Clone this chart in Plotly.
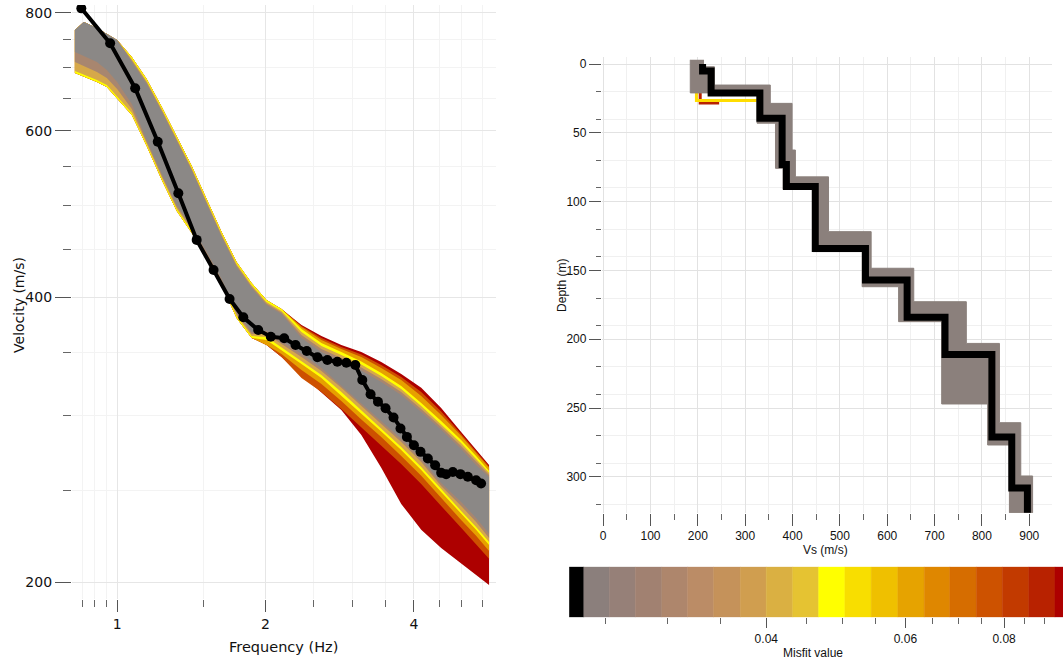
import math
import plotly.graph_objects as go

W, H = 1063, 666

# ---------------- Left panel: dispersion curves ----------------
# Observed (target) dispersion curve
freq_obs = [0.846, 0.968, 1.088, 1.209, 1.331, 1.450, 1.569, 1.691, 1.803, 1.933,
            2.050, 2.182, 2.301, 2.425, 2.549, 2.670, 2.797, 2.917, 3.042, 3.143,
            3.267, 3.382, 3.504, 3.637, 3.757, 3.871, 4.000, 4.125, 4.269, 4.417,
            4.543, 4.650, 4.797, 4.970, 5.145, 5.348, 5.474]
vel_obs = [808.6, 742.6, 665.7, 584.5, 515.5, 460.2, 427.7, 398.6, 381.2, 369.6,
           363.6, 362.2, 356.3, 351.2, 345.8, 343.5, 342.1, 341.3, 339.4, 327.2,
           316.0, 310.3, 305.4, 298.7, 290.8, 284.9, 279.2, 274.7, 270.3, 265.9,
           261.0, 260.2, 261.6, 260.2, 258.5, 256.4, 254.3]

# Envelopes of the computed curves, per misfit class (upper / lower velocity)
freq_env = [0.821, 0.856, 0.910, 0.953, 1.0, 1.071, 1.148, 1.232, 1.321, 1.417,
            1.519, 1.629, 1.747, 1.874, 2.009, 2.155, 2.366, 2.597, 2.850, 3.129,
            3.434, 3.770, 4.139, 4.543, 4.987, 5.348, 5.682]

red_up = [767.0, 782.1, 770.8, 759.6, 748.6, 718.2, 680.8, 636.0, 592.6, 550.9,
          508.4, 469.1, 436.1, 414.4, 397.6, 389.0, 374.1, 364.2, 356.3, 350.3,
          341.9, 332.1, 321.0, 305.7, 288.3, 276.0, 266.1]
red_lo = [690.8, 684.1, 675.8, 667.7, 650.0, 623.7, 578.4, 532.4, 493.7, 468.0,
          440.4, 412.4, 380.6, 362.5, 356.3, 346.1, 331.3, 317.1, 304.2, 286.2,
          264.2, 242.0, 227.2, 217.4, 209.6, 203.6, 198.7]

darkorange_up = [767.0, 782.1, 770.8, 759.6, 748.6, 718.2, 680.8, 636.0, 592.6, 550.9,
                 508.4, 469.1, 436.1, 414.4, 397.6, 389.0, 373.2, 362.5, 354.6, 348.2,
                 339.4, 329.7, 317.8, 303.1, 286.9, 275.0, 265.1]
darkorange_lo = [690.8, 684.1, 675.8, 667.7, 650.0, 623.7, 578.4, 532.4, 493.7, 468.0,
                 440.4, 412.4, 380.6, 362.5, 356.3, 346.1, 328.9, 317.8, 304.9, 291.5,
                 279.0, 266.7, 254.1, 240.8, 228.3, 219.5, 211.7]

orange_up = [767.0, 782.1, 770.8, 759.6, 748.6, 718.2, 680.8, 636.0, 592.6, 550.9,
             508.4, 469.1, 436.1, 414.4, 397.6, 389.0, 372.3, 360.7, 352.9, 346.1,
             337.0, 327.3, 314.8, 300.5, 285.6, 274.0, 264.2]
orange_lo = [690.8, 684.1, 675.8, 667.7, 650.0, 623.7, 578.4, 532.4, 493.7, 468.0,
             440.4, 412.4, 380.6, 362.5, 356.3, 348.6, 335.3, 324.1, 310.9, 297.3,
             284.8, 272.0, 259.1, 245.6, 232.7, 223.9, 215.8]

yellow_up = [767.0, 782.1, 770.8, 759.6, 748.6, 718.2, 680.8, 636.0, 592.6, 550.9,
             508.4, 469.1, 436.1, 414.4, 397.6, 389.0, 370.5, 358.1, 350.3, 342.3,
             332.9, 322.5, 309.4, 296.2, 282.8, 272.0, 262.2]
yellow_lo = [690.8, 684.1, 675.8, 667.7, 650.0, 623.7, 578.4, 532.4, 493.7, 468.0,
             440.4, 412.4, 380.6, 362.5, 360.7, 352.0, 340.2, 328.9, 315.5, 301.6,
             288.7, 276.0, 262.9, 249.2, 236.2, 227.2, 219.0]

tan_up = [767.0, 782.1, 770.8, 759.6, 748.6, 714.8, 677.5, 632.9, 589.8, 548.2,
          505.9, 466.9, 434.0, 412.4, 395.7, 387.1, 367.8, 355.5, 347.8, 339.8,
          330.5, 320.2, 307.2, 294.0, 280.7, 270.0, 261.0]
tan_lo = [694.2, 687.5, 679.1, 670.9, 653.2, 626.7, 581.2, 535.0, 496.2, 470.3,
          442.5, 414.4, 382.4, 364.2, 363.3, 354.6, 342.7, 331.3, 317.8, 303.8,
          290.8, 278.0, 264.8, 251.0, 237.9, 228.8, 220.6]

brown_up = [767.0, 782.1, 770.8, 759.6, 748.6, 712.2, 675.0, 630.6, 587.6, 546.2,
            504.1, 465.2, 432.4, 410.9, 394.2, 385.7, 365.1, 352.9, 345.2, 337.4,
            328.1, 317.8, 304.9, 291.9, 278.7, 268.0, 259.7]
brown_lo = [709.6, 702.7, 692.5, 682.5, 664.4, 632.9, 584.0, 537.6, 498.6, 472.6,
            444.7, 416.4, 384.3, 366.0, 366.0, 357.2, 346.1, 334.5, 321.0, 307.2,
            294.0, 281.4, 268.0, 252.8, 240.8, 231.6, 222.8]

gray_up = [767.0, 782.1, 770.8, 759.6, 748.6, 709.6, 672.6, 628.3, 585.4, 544.2,
           502.2, 463.5, 430.8, 409.4, 392.8, 384.3, 362.5, 350.3, 342.7, 334.9,
           325.7, 315.5, 302.7, 289.8, 276.7, 266.1, 258.4]
gray_lo = [727.0, 720.0, 709.6, 695.9, 675.8, 640.6, 586.9, 540.3, 501.0, 474.9,
           446.8, 418.4, 386.2, 367.8, 368.7, 359.8, 348.6, 337.0, 323.3, 309.4,
           296.2, 283.5, 270.0, 254.7, 243.2, 233.9, 225.0]

env_layers = [
    (red_up, red_lo, "#ad0000"),
    (darkorange_up, darkorange_lo, "#cd5000"),
    (orange_up, orange_lo, "#e6a000"),
    (yellow_up, yellow_lo, "#ffff00"),
    (tan_up, tan_lo, "#d6a84a"),
    (brown_up, brown_lo, "#a8866f"),
    (gray_up, gray_lo, "#8b8886"),
]

# ---------------- Right panel: Vs profiles ----------------
best_vs = [210, 228, 331, 378, 387, 448, 554, 642, 722, 821, 863, 896]
best_bottom = [5, 21, 39.5, 73, 89, 134, 157, 184, 211, 271, 308, 326]

gray_left_vs = [184, 325, 364, 380, 443, 547, 624, 715, 812, 858]
gray_left_bottom = [21, 43, 75.8, 91, 136.3, 161.8, 187.2, 247, 276.8, 326]
gray_right_vs = [212, 235, 353, 399, 406, 476, 566, 656, 767, 837, 882, 907]
gray_right_bottom = [2, 15.3, 28.6, 62.5, 82, 121.8, 148.4, 172.7, 203, 260.6, 299.3, 326]
gray_top = -3

yellow_prof_vs = [197, 330]
yellow_prof_bottom = [26.6, 30]
red_prof_vs = [205, 245]
red_prof_bottom = [28.3, 28.3]
red_prof_top = 10

# ---------------- Colour scale (misfit) ----------------
misfit_levels = [0.0225, 0.0235, 0.0253, 0.0273, 0.0295, 0.0318, 0.0343, 0.0371, 0.0400,
                 0.0432, 0.0466, 0.0503, 0.0543, 0.0587, 0.0634, 0.0683, 0.0738, 0.0796,
                 0.0860, 0.0928, 0.1000]
misfit_colors = ["#000000", "#8b7f7c", "#968078", "#a18171", "#ae866c", "#bb8c66",
                 "#c5925a", "#d09e4f", "#dab042", "#e5c332", "#ffff00", "#f8de00",
                 "#efc000", "#e6a300", "#df8700", "#d66d00", "#cd5200", "#c23a00",
                 "#b82200", "#ad0000"]
misfit_ticks = [0.04, 0.06, 0.08]
misfit_minor = [0.025, 0.03, 0.035, 0.045, 0.05, 0.055, 0.065, 0.07, 0.075, 0.085, 0.09]

# ---------------- Axis tick values ----------------
freq_ticks = [1, 2, 4]
freq_minor = [0.85, 0.9, 0.95, 1.5, 2.5, 3, 3.5, 4.5, 5, 5.5]
vel_ticks = [200, 400, 600, 800]
vel_minor = [250, 300, 350, 450, 500, 550, 650, 700, 750]
vs_ticks = [0, 100, 200, 300, 400, 500, 600, 700, 800, 900]
vs_minor = [50, 150, 250, 350, 450, 550, 650, 750, 850]
depth_ticks = [0, 50, 100, 150, 200, 250, 300]
depth_minor = [20, 40, 70, 90, 120, 140, 170, 190, 220, 240, 270, 290, 320]


def staircase(vs, bottoms, top):
    xs, ys = [vs[0]], [top]
    for i, v in enumerate(vs):
        xs.append(v)
        ys.append(bottoms[i])
        if i + 1 < len(vs):
            xs.append(vs[i + 1])
            ys.append(bottoms[i])
    return xs, ys


fig = go.Figure()

# left: envelopes
for up, lo, col in env_layers:
    fig.add_trace(go.Scatter(
        x=freq_env + freq_env[::-1], y=up + lo[::-1],
        fill="toself", fillcolor=col, mode="lines",
        line=dict(width=0, color=col), hoverinfo="skip", showlegend=False,
        xaxis="x", yaxis="y"))

fig.add_trace(go.Scatter(
    x=freq_obs, y=vel_obs, mode="lines+markers",
    line=dict(color="black", width=4), marker=dict(color="black", size=10),
    showlegend=False, xaxis="x", yaxis="y"))

# right: profiles
rx, ry = staircase(red_prof_vs, red_prof_bottom, red_prof_top)
fig.add_trace(go.Scatter(x=rx, y=ry, mode="lines", line=dict(color="#b82200", width=3),
                         showlegend=False, xaxis="x2", yaxis="y2"))
yx, yy = staircase(yellow_prof_vs, yellow_prof_bottom, 0)
fig.add_trace(go.Scatter(x=yx, y=yy, mode="lines", line=dict(color="#ffdd00", width=3),
                         showlegend=False, xaxis="x2", yaxis="y2"))

lx, ly = staircase(gray_left_vs, gray_left_bottom, gray_top)
qx, qy = staircase(gray_right_vs, gray_right_bottom, gray_top)
fig.add_trace(go.Scatter(
    x=lx + qx[::-1], y=ly + qy[::-1], fill="toself", fillcolor="#8b807c",
    mode="lines", line=dict(color="#8b807c", width=1), showlegend=False,
    xaxis="x2", yaxis="y2"))

bx, by = staircase(best_vs, best_bottom, 0)
fig.add_trace(go.Scatter(x=bx, y=by, mode="lines", line=dict(color="black", width=7),
                         showlegend=False, xaxis="x2", yaxis="y2"))

# colour bar
for i, col in enumerate(misfit_colors):
    a, b = misfit_levels[i], misfit_levels[i + 1]
    fig.add_trace(go.Scatter(
        x=[a, b, b, a, a], y=[0, 0, 1, 1, 0], fill="toself", fillcolor=col,
        mode="lines", line=dict(width=0.5, color=col), hoverinfo="skip",
        showlegend=False, xaxis="x3", yaxis="y3"))

FONT_L = "DejaVu Sans, Verdana, sans-serif"
FONT_R = "Liberation Sans, Arial, sans-serif"
MAJ_GRID = "#e6e6e6"
MIN_GRID = "#f3f3f3"


def px_x(p):
    return p / W


def px_y(p):
    return 1 - p / H


fig.update_layout(
    width=W, height=H, margin=dict(l=0, r=0, t=0, b=0),
    paper_bgcolor="white", plot_bgcolor="white", showlegend=False,
    xaxis=dict(type="log", domain=[px_x(70), px_x(495)],
               range=[math.log10(0.8095), math.log10(5.871)],
               tickmode="array", tickvals=freq_ticks, ticktext=[str(v) for v in freq_ticks],
               ticks="outside", ticklen=12, tickwidth=1, tickcolor="#555",
               showgrid=True, gridcolor=MAJ_GRID, zeroline=False, showline=False,
               tickfont=dict(family=FONT_L, size=14, color="#111"),
               minor=dict(tickmode="array", tickvals=freq_minor, ticks="outside", ticklen=7,
                          tickcolor="#666", showgrid=True, gridcolor=MIN_GRID),
               anchor="y"),
    yaxis=dict(type="log", domain=[px_y(599), px_y(5)],
               range=[math.log10(192.0), math.log10(815.2)],
               tickmode="array", tickvals=vel_ticks, ticktext=[str(v) for v in vel_ticks],
               ticks="outside", ticklen=16, tickwidth=1, tickcolor="#555",
               showgrid=True, gridcolor=MAJ_GRID, zeroline=False, showline=False,
               tickfont=dict(family=FONT_L, size=14, color="#111"),
               minor=dict(tickmode="array", tickvals=vel_minor, ticks="outside", ticklen=8,
                          tickcolor="#666", showgrid=True, gridcolor=MIN_GRID),
               anchor="x"),
    xaxis2=dict(domain=[px_x(601), px_x(1052)], range=[-2.7, 948],
                tickmode="array", tickvals=vs_ticks, ticks="outside", ticklen=12,
                tickcolor="#555", showgrid=True, gridcolor="#e2e2e2", zeroline=False,
                showline=False, tickfont=dict(family=FONT_R, size=12, color="#111"),
                minor=dict(tickmode="array", tickvals=vs_minor, ticks="outside", ticklen=6,
                           tickcolor="#666", showgrid=True, gridcolor="#f0f0f0"),
                anchor="y2"),
    yaxis2=dict(domain=[px_y(513), px_y(56.7)], range=[326.2, -5.3],
                tickmode="array", tickvals=depth_ticks, ticks="outside", ticklen=12,
                tickcolor="#555", showgrid=True, gridcolor="#e2e2e2", zeroline=False,
                showline=False, tickfont=dict(family=FONT_R, size=12, color="#111"),
                minor=dict(tickmode="array", tickvals=depth_minor, ticks="outside", ticklen=5,
                           tickcolor="#666", showgrid=True, gridcolor="#f0f0f0"),
                anchor="x2"),
    xaxis3=dict(type="log", domain=[px_x(568.3), 1.0],
                range=[math.log10(0.02252), math.log10(0.0950)],
                tickmode="array", tickvals=misfit_ticks, ticktext=["0.04", "0.06", "0.08"],
                ticks="outside", ticklen=10, tickcolor="#555", showgrid=False,
                zeroline=False, showline=False,
                tickfont=dict(family=FONT_R, size=12, color="#111"),
                minor=dict(tickmode="array", tickvals=misfit_minor, ticks="outside",
                           ticklen=6, tickcolor="#666", showgrid=False),
                anchor="y3"),
    yaxis3=dict(domain=[px_y(617.3), px_y(566.7)], range=[0, 1], visible=False,
                anchor="x3"),
    annotations=[
        dict(text="Velocity (m/s)", x=px_x(17), y=px_y(305), xref="paper", yref="paper",
             showarrow=False, textangle=-90, xanchor="center", yanchor="middle",
             font=dict(family=FONT_L, size=14, color="#111")),
        dict(text="Frequency (Hz)", x=px_x(282.5), y=px_y(647), xref="paper", yref="paper",
             showarrow=False, xanchor="center", yanchor="middle",
             font=dict(family=FONT_L, size=14.5, color="#111")),
        dict(text="Depth (m)", x=px_x(561), y=px_y(285), xref="paper", yref="paper",
             showarrow=False, textangle=-90, xanchor="center", yanchor="middle",
             font=dict(family=FONT_R, size=12, color="#111")),
        dict(text="Vs (m/s)", x=px_x(825), y=px_y(550), xref="paper", yref="paper",
             showarrow=False, xanchor="center", yanchor="middle",
             font=dict(family=FONT_R, size=12, color="#111")),
        dict(text="Misfit value", x=px_x(813), y=px_y(653), xref="paper", yref="paper",
             showarrow=False, xanchor="center", yanchor="middle",
             font=dict(family=FONT_R, size=12, color="#111")),
    ],
)

fig.write_html("out.html", config={"displayModeBar": False},
               post_script="document.body.style.margin='0px';")
